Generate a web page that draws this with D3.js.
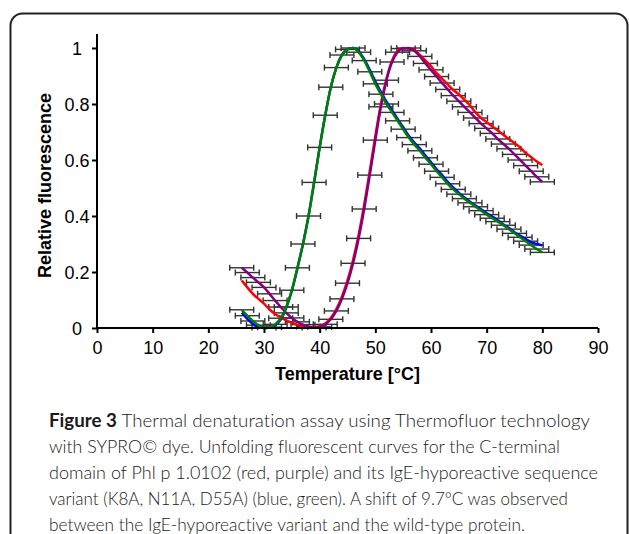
<!DOCTYPE html>
<html>
<head>
<meta charset="utf-8">
<script src="https://cdn.jsdelivr.net/npm/d3@7/dist/d3.min.js"></script>
<style>
  body { margin: 0; background: #fff; }
  svg { display: block; }
</style>
</head>
<body>
<script>
const svgWidth = 629; //Width of SVG.
const svgHeight = 534; //Height of SVG.

//Temperatures of the readings, one every degree.
const temps = [26, 27, 28, 29, 30, 31, 32, 33, 34, 35, 36, 37, 38, 39, 40, 41, 42, 43, 44,
               45, 46, 47, 48, 49, 50, 51, 52, 53, 54, 55, 56, 57, 58, 59, 60, 61, 62, 63,
               64, 65, 66, 67, 68, 69, 70, 71, 72, 73, 74, 75, 76, 77, 78, 79, 80];

//Wild-type protein (red, purple).
const redValues = [0.17, 0.145, 0.122, 0.104, 0.087, 0.066, 0.05, 0.038, 0.027, 0.018, 0.011, 0.006, 0.003, 0.003,
                   0.006, 0.016, 0.036, 0.068, 0.112, 0.17, 0.243, 0.332, 0.44, 0.56, 0.685, 0.8, 0.89, 0.955, 0.99, 1.0,
                   0.998, 0.993, 0.975, 0.955, 0.935, 0.91, 0.89, 0.87, 0.85, 0.835, 0.815, 0.795, 0.77, 0.75, 0.735,
                   0.72, 0.705, 0.69, 0.675, 0.66, 0.645, 0.625, 0.61, 0.595, 0.582];
const purpleValues = [0.215, 0.198, 0.18, 0.163, 0.145, 0.122, 0.098, 0.075, 0.054, 0.036, 0.022, 0.012, 0.005, 0.002,
                      0.004, 0.013, 0.031, 0.061, 0.104, 0.16, 0.231, 0.32, 0.425, 0.546, 0.671, 0.79, 0.885, 0.95, 0.985, 0.998,
                      1.0, 0.99, 0.97, 0.945, 0.922, 0.898, 0.875, 0.852, 0.83, 0.81, 0.79, 0.77, 0.75, 0.73, 0.713,
                      0.695, 0.675, 0.657, 0.64, 0.62, 0.6, 0.58, 0.56, 0.54, 0.522];

//IgE-hyporeactive variant (blue, green).
const blueValues = [0.055, 0.033, 0.014, 0.004, 0.0, 0.002, 0.01, 0.03, 0.072, 0.133, 0.213, 0.3, 0.4, 0.52,
                    0.645, 0.76, 0.86, 0.93, 0.975, 0.995, 1.0, 0.988, 0.96, 0.922, 0.88, 0.843, 0.808, 0.777, 0.747, 0.717,
                    0.687, 0.662, 0.641, 0.616, 0.592, 0.567, 0.546, 0.522, 0.501, 0.483, 0.466, 0.451, 0.437, 0.424, 0.41,
                    0.398, 0.385, 0.37, 0.357, 0.342, 0.33, 0.318, 0.306, 0.3, 0.295];
const greenValues = [0.065, 0.044, 0.025, 0.01, 0.002, 0.003, 0.013, 0.035, 0.075, 0.135, 0.215, 0.3, 0.4, 0.52,
                     0.645, 0.76, 0.86, 0.93, 0.975, 0.995, 1.0, 0.985, 0.955, 0.915, 0.872, 0.835, 0.8, 0.77, 0.74, 0.71,
                     0.68, 0.655, 0.633, 0.608, 0.585, 0.56, 0.538, 0.515, 0.495, 0.478, 0.462, 0.447, 0.433, 0.419, 0.405,
                     0.392, 0.38, 0.367, 0.353, 0.338, 0.324, 0.31, 0.296, 0.282, 0.27];

const tempError = 2.15; //Horizontal error, degrees either side.

const xTicks = [0, 10, 20, 30, 40, 50, 60, 70, 80, 90];
const yTicks = [0, 0.2, 0.4, 0.6, 0.8, 1];
const yTickLabels = ["0", "0.2", "0.4", "0.6", "0.8", "1"];

const captionLines = [
  ["Figure 3", " Thermal denaturation assay using Thermofluor technology"],
  ["", "with SYPRO\u00a9 dye. Unfolding fluorescent curves for the C-terminal"],
  ["", "domain of Phl p 1.0102 (red, purple) and its IgE-hyporeactive sequence"],
  ["", "variant (K8A, N11A, D55A) (blue, green). A shift of 9.7\u00b0C was observed"],
  ["", "between the IgE-hyporeactive variant and the wild-type protein."]
];
const captionWidths = [541, 511, 549, 519, 476];

//Series are drawn in this order, so purple and green sit on top.
const series = [
  { name: "red", values: redValues, colour: "#ff0000", bars: false },
  { name: "blue", values: blueValues, colour: "#0000ff", bars: false },
  { name: "purple", values: purpleValues, colour: "#800080", bars: true },
  { name: "green", values: greenValues, colour: "#008000", bars: true }
];

const xScale = d3.scaleLinear().domain([0, 90]).range([97, 598]);
const yScale = d3.scaleLinear().domain([0, 1.05]).range([328, 34]);

const svg = d3.select("body")
              .append("svg")
              .attr("width", svgWidth)
              .attr("height", svgHeight);

svg.append("rect") //White background.
   .attr("width", svgWidth)
   .attr("height", svgHeight)
   .attr("fill", "#fff");

svg.append("rect") //Rounded frame, runs off the right and bottom edges.
   .attr("x", 10.5)
   .attr("y", 13.5)
   .attr("width", 617)
   .attr("height", 600)
   .attr("rx", 12)
   .attr("fill", "none")
   .attr("stroke", "#222")
   .attr("stroke-width", 2);

//Error bars first, lines go over them.
const barGroup = svg.append("g").attr("stroke", "#333").attr("stroke-width", 1.4);
series.filter((s) => s.bars).forEach((s) => {
  const pts = temps.map((t, i) => [t, s.values[i]]);
  barGroup.selectAll(null)
          .data(pts)
          .enter()
          .append("line")
          .attr("x1", (d) => xScale(d[0] - tempError))
          .attr("x2", (d) => xScale(d[0] + tempError))
          .attr("y1", (d) => yScale(d[1]))
          .attr("y2", (d) => yScale(d[1]));
  [-1, 1].forEach((side) => { //Caps at both ends.
    barGroup.selectAll(null)
            .data(pts)
            .enter()
            .append("line")
            .attr("x1", (d) => xScale(d[0] + side * tempError))
            .attr("x2", (d) => xScale(d[0] + side * tempError))
            .attr("y1", (d) => yScale(d[1]) - 3)
            .attr("y2", (d) => yScale(d[1]) + 3);
  });
});

const line = d3.line()
               .x((d) => xScale(d[0]))
               .y((d) => yScale(d[1]))
               .curve(d3.curveMonotoneX);

series.forEach((s) => {
  svg.append("path")
     .datum(temps.map((t, i) => [t, s.values[i]]))
     .attr("fill", "none")
     .attr("stroke", s.colour)
     .attr("stroke-width", 2.5)
     .attr("stroke-linejoin", "round")
     .attr("d", line);
});

//Axes.
const xAxis = d3.axisBottom(xScale).tickValues(xTicks).tickSize(5).tickSizeOuter(0).tickPadding(8);
const yAxis = d3.axisLeft(yScale).tickValues(yTicks).tickSize(5).tickSizeOuter(0).tickFormat((d, i) => yTickLabels[i]);

const gx = svg.append("g")
              .attr("transform", "translate(0," + yScale(0) + ")")
              .call(xAxis);
const gy = svg.append("g")
              .attr("transform", "translate(" + xScale(0) + ",0)")
              .call(yAxis);

[gx, gy].forEach((g) => {
  g.select(".domain").attr("stroke", "#000").attr("stroke-width", 2);
  g.selectAll(".tick line").attr("stroke", "#000").attr("stroke-width", 2);
  g.selectAll(".tick text")
   .attr("fill", "#000")
   .style("font-family", "'Liberation Sans', Arial, sans-serif")
   .style("font-size", "18px");
});
gy.selectAll(".tick text").attr("text-anchor", "middle").attr("x", -20).attr("dy", "0.34em");
gx.select(".domain").attr("d", "M" + xScale(0) + ",0H" + xScale(90));
gy.select(".domain").attr("d", "M0," + yScale(0) + "V" + yScale(1.05));

svg.append("text") //X-axis title.
   .attr("x", (xScale(0) + xScale(90)) / 2)
   .attr("y", 380)
   .attr("text-anchor", "middle")
   .style("font-family", "'Liberation Sans', Arial, sans-serif")
   .style("font-size", "18px")
   .style("font-weight", "bold")
   .text("Temperature [\u00b0C]");

svg.append("text") //Y-axis title.
   .attr("transform", "translate(51," + 185.5 + ") rotate(-90)")
   .attr("text-anchor", "middle")
   .style("font-family", "'Liberation Sans', Arial, sans-serif")
   .style("font-size", "18px")
   .style("font-weight", "bold")
   .text("Relative fluorescence");

//Caption, each line stretched to the width it has in the figure.
captionLines.forEach((parts, i) => {
  const t = svg.append("text")
               .attr("x", 49)
               .attr("y", 427 + i * 26)
               .attr("textLength", captionWidths[i])
               .attr("lengthAdjust", "spacingAndGlyphs")
               .style("font-family", "Lato, 'Open Sans', sans-serif")
               .style("font-size", "18px")
               .style("font-weight", 300)
               .style("font-variant-ligatures", "none")
               .attr("fill", "#1a1a1a");
  if (parts[0]) t.append("tspan").style("font-weight", "bold").text(parts[0]);
  t.append("tspan").text(parts[1]);
});
</script>
</body>
</html>
